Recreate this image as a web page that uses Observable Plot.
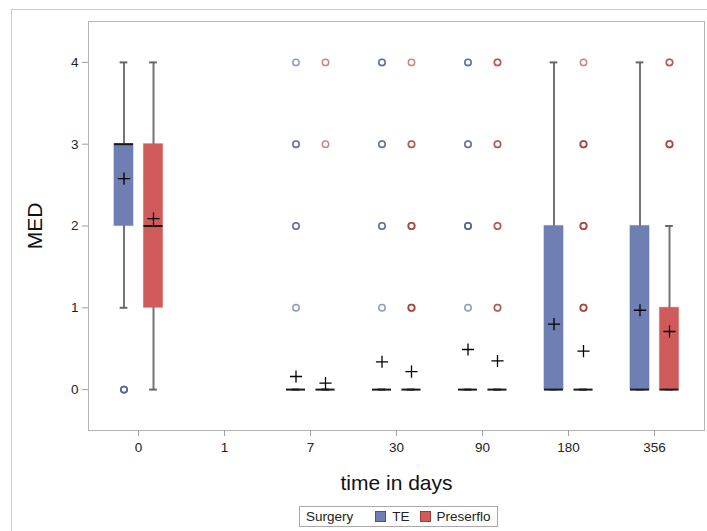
<!DOCTYPE html>
<html>
<head>
<meta charset="utf-8">
<script src="https://cdn.jsdelivr.net/npm/d3@7"></script>
<script src="https://cdn.jsdelivr.net/npm/@observablehq/plot@0.6"></script>
<style>
html,body{margin:0;padding:0;overflow:hidden;background:#fff;width:707px;height:531px;}
body{font-family:"Liberation Sans",Arial,sans-serif;position:relative;}
#outer{position:absolute;left:11px;top:9px;width:760px;height:600px;border:1px solid #cbcbcb;}
#chart{position:absolute;left:0;top:0;}
#legend{position:absolute;left:299px;top:506px;height:19px;border:1px solid #a9a9a9;display:flex;align-items:center;font-size:13.5px;color:#222;padding:0 6px 0 6px;white-space:nowrap;background:#fff;}
#legend .sw{display:inline-block;width:9px;height:9px;border:1px solid;margin:0 6px 0 0;}
#legend .lab{margin-right:10px;}
</style>
</head>
<body>
<div id="outer"></div>
<div id="chart"></div>
<div id="legend"></div>
<script>
// ---- data ----
const days = ["0", "1", "7", "30", "90", "180", "356"];
const groups = ["TE", "Preserflo"];
const legendTitle = "Surgery";
const xLabel = "time in days";
const yLabel = "MED";
const yTicks = [0, 1, 2, 3, 4];

// TE box statistics per day (null = no data)
const teMin    = [1, null, 0, 0, 0, 0, 0];
const teQ1     = [2, null, 0, 0, 0, 0, 0];
const teMedian = [3, null, 0, 0, 0, 0, 0];
const teQ3     = [3, null, 0, 0, 0, 2, 2];
const teMax    = [4, null, 0, 0, 0, 4, 4];
const teMean   = [2.58, null, 0.16, 0.34, 0.49, 0.80, 0.97];
const teOutliers = [[0, 0, 0], [], [1, 2, 2, 3, 3, 4], [1, 2, 2, 3, 3, 4, 4], [1, 2, 2, 2, 3, 3, 4, 4], [], []];

// Preserflo box statistics per day
const prMin    = [0, null, 0, 0, 0, 0, 0];
const prQ1     = [1, null, 0, 0, 0, 0, 0];
const prMedian = [2, null, 0, 0, 0, 0, 0];
const prQ3     = [3, null, 0, 0, 0, 0, 1];
const prMax    = [4, null, 0, 0, 0, 0, 2];
const prMean   = [2.09, null, 0.08, 0.22, 0.35, 0.47, 0.71];
const prOutliers = [[], [], [3, 4], [1, 1, 1, 2, 2, 2, 3, 3, 4], [1, 1, 2, 2, 3, 3, 4, 4], [1, 1, 1, 2, 2, 2, 3, 3, 3, 4], [3, 3, 3, 4, 4]];

// ---- build tables ----
function boxRows(mn, q1, md, q3, mx, mean) {
  const rows = [];
  days.forEach((d, i) => {
    if (q1[i] == null) return;
    rows.push({day: d, min: mn[i], q1: q1[i], median: md[i], q3: q3[i], max: mx[i], mean: mean[i]});
  });
  return rows;
}
function outlierRows(list) {
  const rows = [];
  days.forEach((d, i) => list[i].forEach(v => rows.push({day: d, value: v})));
  return rows;
}
const series = [
  {name: groups[0], boxes: boxRows(teMin, teQ1, teMedian, teQ3, teMax, teMean), outliers: outlierRows(teOutliers),
   fill: "#6F7EB3", line: "#445694", dx: -14.5},
  {name: groups[1], boxes: boxRows(prMin, prQ1, prMedian, prQ3, prMax, prMean), outliers: outlierRows(prOutliers),
   fill: "#D05B5B", line: "#A23A2E", dx: 15}
];

// ---- layout ----
const W = 707, H = 500, mL = 88, mR = 3, mT = 21, mB = 70;
const padOuter = 0.068;
const step = (W - mL - mR) / (days.length + 2 * padOuter);
const boxW = 19.4, capW = 8;
const boxInset = (step - boxW) / 2, capInset = (step - capW) / 2;

const marks = [Plot.frame({stroke: "#b4b4b4"})];
for (const s of series) {
  marks.push(
    Plot.ruleX(s.boxes, {x: "day", y1: "min", y2: "max", stroke: "#747474", strokeWidth: 2, dx: s.dx}),
    Plot.tickY(s.boxes, {x: "day", y: "max", stroke: "#666", strokeWidth: 2, insetLeft: capInset, insetRight: capInset, dx: s.dx}),
    Plot.tickY(s.boxes, {x: "day", y: "min", stroke: "#666", strokeWidth: 2, insetLeft: capInset, insetRight: capInset, dx: s.dx}),
    Plot.barY(s.boxes, {x: "day", y1: "q1", y2: "q3", fill: s.fill, stroke: s.fill, strokeOpacity: 0.45, strokeWidth: 1.2, insetLeft: boxInset, insetRight: boxInset, dx: s.dx}),
    Plot.tickY(s.boxes, {x: "day", y: "median", stroke: "#1a1a1a", strokeWidth: 2, insetLeft: boxInset, insetRight: boxInset, dx: s.dx}),
    Plot.dot(s.outliers, {x: "day", y: "value", r: 3.2, stroke: s.line, strokeWidth: 1.5, strokeOpacity: 0.6, fill: "none", dx: s.dx}),
    Plot.dot(s.boxes, {x: "day", y: "mean", symbol: "plus", r: 4, stroke: "#000", strokeWidth: 1.3, dx: s.dx})
  );
}
marks.push(
  Plot.axisX({tickSize: 6, tickPadding: 6, fontSize: 13.5, stroke: "#a0a0a0", fill: "#222", label: null}),
  Plot.axisY({ticks: yTicks, tickFormat: "d", tickSize: 6, tickPadding: 4, fontSize: 13.5, stroke: "#a0a0a0", fill: "#222", label: null}),
  Plot.text([xLabel], {frameAnchor: "bottom", dy: 52.5, fontSize: 21, fill: "#111", textAnchor: "middle", lineAnchor: "middle"}),
  Plot.text([yLabel], {frameAnchor: "left", dx: -53, rotate: -90, fontSize: 21, fill: "#111", textAnchor: "middle", lineAnchor: "middle"})
);

const chart = Plot.plot({
  width: W, height: H,
  marginLeft: mL, marginRight: mR, marginTop: mT, marginBottom: mB,
  style: {fontFamily: "Liberation Sans, Arial, sans-serif", background: "transparent"},
  x: {type: "band", domain: days, paddingInner: 0, paddingOuter: padOuter, align: 0.5},
  y: {domain: [-0.5, 4.5]},
  marks
});
document.getElementById("chart").appendChild(chart);

// ---- legend ----
const lg = document.getElementById("legend");
const t = document.createElement("span");
t.textContent = legendTitle; t.style.marginRight = "22px";
lg.appendChild(t);
series.forEach((s, i) => {
  const sw = document.createElement("span");
  sw.className = "sw"; sw.style.background = s.fill; sw.style.borderColor = s.line;
  const lab = document.createElement("span");
  lab.className = "lab"; lab.textContent = s.name;
  if (i === series.length - 1) lab.style.marginRight = "0";
  lg.appendChild(sw); lg.appendChild(lab);
});
</script>
</body>
</html>
